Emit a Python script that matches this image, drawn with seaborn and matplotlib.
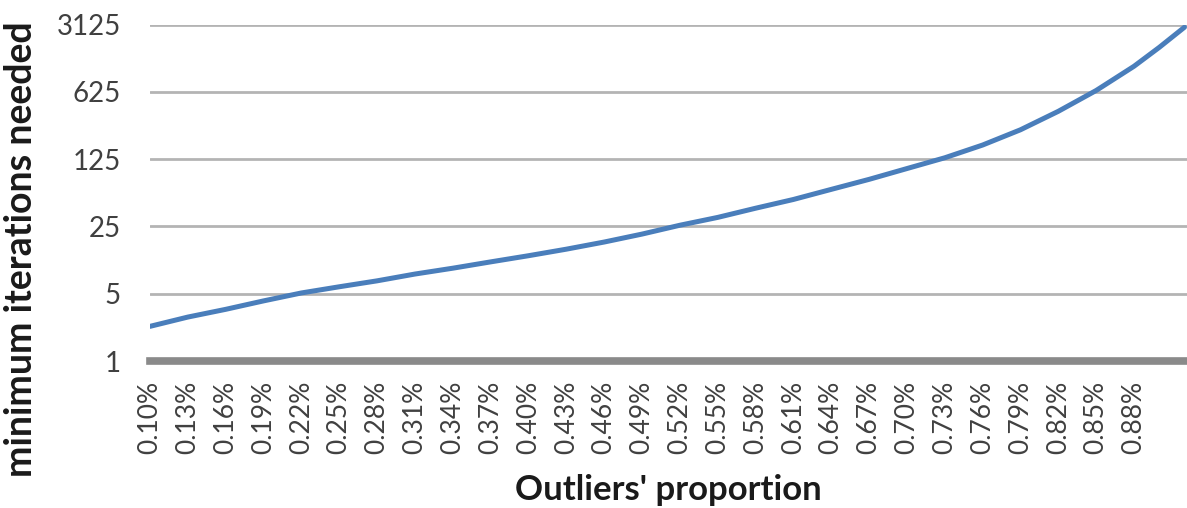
import matplotlib
matplotlib.use("Agg")
import matplotlib.pyplot as plt
import matplotlib.ticker as mticker
import seaborn as sns
import pandas as pd

# Outlier proportion (category values shown as "x%") and the minimum number of iterations
outlier_prop = [0.10, 0.13, 0.16, 0.19, 0.22, 0.25, 0.28, 0.31, 0.34, 0.37,
                0.40, 0.43, 0.46, 0.49, 0.52, 0.55, 0.58, 0.61, 0.64, 0.67,
                0.70, 0.73, 0.76, 0.79, 0.82, 0.85, 0.88, 0.90, 0.92]
min_iterations = [2.29, 2.86, 3.44, 4.21, 5.09, 5.9, 6.8, 8.0, 9.2, 10.7,
                  12.4, 14.5, 17.2, 20.8, 25.7, 31.0, 38.6, 47.6, 60.6, 77.0,
                  99.7, 129.0, 175.0, 252.0, 392.0, 645.0, 1151.0, 1808.0, 2928.0]

tick_values = [0.10, 0.13, 0.16, 0.19, 0.22, 0.25, 0.28, 0.31, 0.34, 0.37,
               0.40, 0.43, 0.46, 0.49, 0.52, 0.55, 0.58, 0.61, 0.64, 0.67,
               0.70, 0.73, 0.76, 0.79, 0.82, 0.85, 0.88]
tick_labels = [f"{v:.2f}%" for v in tick_values]
y_ticks = [1, 5, 25, 125, 625, 3125]

df = pd.DataFrame({"proportion": outlier_prop, "iterations": min_iterations})

sns.set_style("white")
plt.rcParams["font.family"] = ["Lato", "DejaVu Sans"]

fig = plt.figure(figsize=(11.87, 5.08), dpi=100)
ax = fig.add_axes([150 / 1187, 1 - 361 / 508, 1037 / 1187, (361 - 24.5) / 508])

ax.set_yscale("log", base=5)
ax.set_ylim(1, 3125)
ax.set_xlim(0.10, 0.922)

# horizontal gridlines
for yv in y_ticks[1:]:
    ax.axhline(yv, color="#b4b4b4", lw=2.0, zorder=1)

sns.lineplot(data=df, x="proportion", y="iterations", ax=ax,
             color="#4a7ebb", lw=3.6, zorder=3)

ax.set_yticks(y_ticks)
ax.yaxis.set_major_formatter(mticker.FixedFormatter([str(v) for v in y_ticks]))
ax.yaxis.set_minor_locator(mticker.NullLocator())
ax.set_xticks(tick_values)
ax.set_xticklabels(tick_labels, rotation=90)
ax.tick_params(axis="y", length=0, pad=21, labelsize=20, labelcolor="#404040")
ax.tick_params(axis="x", length=0, pad=14, labelsize=19, labelcolor="#404040")

for side in ["top", "right", "left"]:
    ax.spines[side].set_visible(False)
ax.spines["bottom"].set_color("#8a8a8a")
ax.spines["bottom"].set_linewidth(5.5)
ax.spines["bottom"].set_zorder(2)

ax.set_xlabel("")
ax.set_ylabel("")
fig.text(21 / 1187, 1 - 249 / 508, "minimum iterations needed", rotation=90,
         ha="center", va="center", fontsize=27, fontweight="bold", color="#1a1a1a")
fig.text(668 / 1187, 1 - 490 / 508, "Outliers' proportion",
         ha="center", va="center", fontsize=25, fontweight="bold", color="#1a1a1a")

fig.savefig("out.png", dpi=100, facecolor="white")
